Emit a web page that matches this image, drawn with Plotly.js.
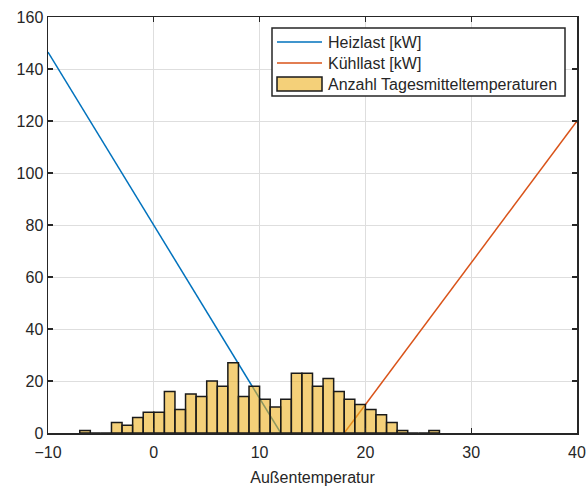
<!DOCTYPE html>
<html>
<head>
<meta charset="utf-8">
<script src="https://cdn.plot.ly/plotly-3.0.1.min.js"></script>
<style>html,body{margin:0;padding:0;background:#fff;}#chart{width:586px;height:486px;}</style>
</head>
<body>
<div id="chart"></div>
<script>
// Histogram: left edges of 1-degree bins and counts (days)
const binLeft = [-7,-6,-5,-4,-3,-2,-1,0,1,2,3,4,5,6,7,8,9,10,11,12,13,14,15,16,17,18,19,20,21,22,23,24,25,26];
const counts  = [1,0,0,4,3,6,8,8,16,9,15,14,20,18,27,14,18,13,10,13,23,23,18,21,16,13,11,9,7,4,1,0,0,1];
const binWidth = 1;

// Load lines
const heizT = [-10, 12];
const heizKW = [146.5, 0];
const kuehlT = [18, 40];
const kuehlKW = [0, 120];

const xTicks = [-10, 0, 10, 20, 30, 40];
const yTicks = [0, 20, 40, 60, 80, 100, 120, 140, 160];

const labels = {
  heiz: 'Heizlast [kW]',
  kuehl: 'Kühllast [kW]',
  hist: 'Anzahl Tagesmitteltemperaturen',
  xTitle: 'Außentemperatur'
};

const colors = {heiz: '#0072BD', kuehl: '#D95319', barFill: 'rgba(237,177,32,0.6)', barEdge: '#1a1a1a'};

const binCenters = binLeft.map(v => v + binWidth / 2);
const txt = '#262626';
const fontFam = '"Liberation Sans", Arial, Helvetica, sans-serif';

// figure geometry (pixels) used to place the legend box in paper coordinates
const W = 586, H = 486, M = {l: 48, r: 9, t: 17, b: 53};
const pw = W - M.l - M.r, ph = H - M.t - M.b;
const px = v => (v - M.l) / pw;
const py = v => (H - M.b - v) / ph;

const traces = [
  {x: heizT, y: heizKW, type: 'scatter', mode: 'lines', name: labels.heiz,
   line: {color: colors.heiz, width: 1.5}, xaxis: 'x', yaxis: 'y', showlegend: false},
  {x: kuehlT, y: kuehlKW, type: 'scatter', mode: 'lines', name: labels.kuehl,
   line: {color: colors.kuehl, width: 1.5}, xaxis: 'x', yaxis: 'y', showlegend: false},
  {x: binCenters, y: counts, type: 'bar', width: binWidth, name: labels.hist,
   marker: {color: colors.barFill, line: {color: colors.barEdge, width: 1.5}},
   xaxis: 'x2', yaxis: 'y2', showlegend: false}
];

// Legend (MATLAB style) built from shapes + annotations
const legBox = {x0: 272, x1: 565, y0: 28, y1: 96};
const sampleX = [277, 322];
const rowsY = [42, 63, 84];
const shapes = [
  {type: 'rect', xref: 'paper', yref: 'paper', x0: px(legBox.x0), x1: px(legBox.x1), y0: py(legBox.y1), y1: py(legBox.y0),
   fillcolor: '#fff', line: {color: txt, width: 1.5}, layer: 'above'},
  {type: 'line', xref: 'paper', yref: 'paper', x0: px(sampleX[0]), x1: px(sampleX[1]), y0: py(rowsY[0]), y1: py(rowsY[0]),
   line: {color: colors.heiz, width: 1.5}, layer: 'above'},
  {type: 'line', xref: 'paper', yref: 'paper', x0: px(sampleX[0]), x1: px(sampleX[1]), y0: py(rowsY[1]), y1: py(rowsY[1]),
   line: {color: colors.kuehl, width: 1.5}, layer: 'above'},
  {type: 'rect', xref: 'paper', yref: 'paper', x0: px(sampleX[0]), x1: px(sampleX[1]), y0: py(rowsY[2] + 7), y1: py(rowsY[2] - 7),
   fillcolor: colors.barFill, line: {color: colors.barEdge, width: 1.5}, layer: 'above'}
];
const legNames = [labels.heiz, labels.kuehl, labels.hist];
const annotations = legNames.map((t, i) => ({
  text: t, xref: 'paper', yref: 'paper', x: px(326), y: py(rowsY[i]), xanchor: 'left', yanchor: 'middle',
  showarrow: false, font: {family: fontFam, size: 16, color: txt}
}));

const axCommon = {
  showline: true, linecolor: txt, linewidth: 1.5, mirror: 'ticks',
  ticks: 'inside', ticklen: 5, tickwidth: 1.3, tickcolor: txt,
  showgrid: true, gridcolor: '#dedede', gridwidth: 1, zeroline: false,
  tickfont: {family: fontFam, size: 16, color: txt}, automargin: false,
  layer: 'above traces'
};

const layout = {
  width: W, height: H,
  margin: M,
  paper_bgcolor: '#fff', plot_bgcolor: '#fff',
  font: {family: fontFam, size: 16, color: txt},
  showlegend: false,
  xaxis: Object.assign({}, axCommon, {range: [-10, 40], tickvals: xTicks, ticklabelstandoff: 4,
    title: {text: labels.xTitle, font: {family: fontFam, size: 16, color: txt}, standoff: 12}}),
  yaxis: Object.assign({}, axCommon, {range: [0, 160], tickvals: yTicks}),
  xaxis2: {overlaying: 'x', range: [-10, 40], visible: false, showgrid: false, zeroline: false},
  yaxis2: {overlaying: 'y', range: [0, 160], visible: false, showgrid: false, zeroline: false},
  bargap: 0,
  shapes: shapes,
  annotations: annotations
};

Plotly.newPlot('chart', traces, layout, {displayModeBar: false, staticPlot: true});
</script>
</body>
</html>
